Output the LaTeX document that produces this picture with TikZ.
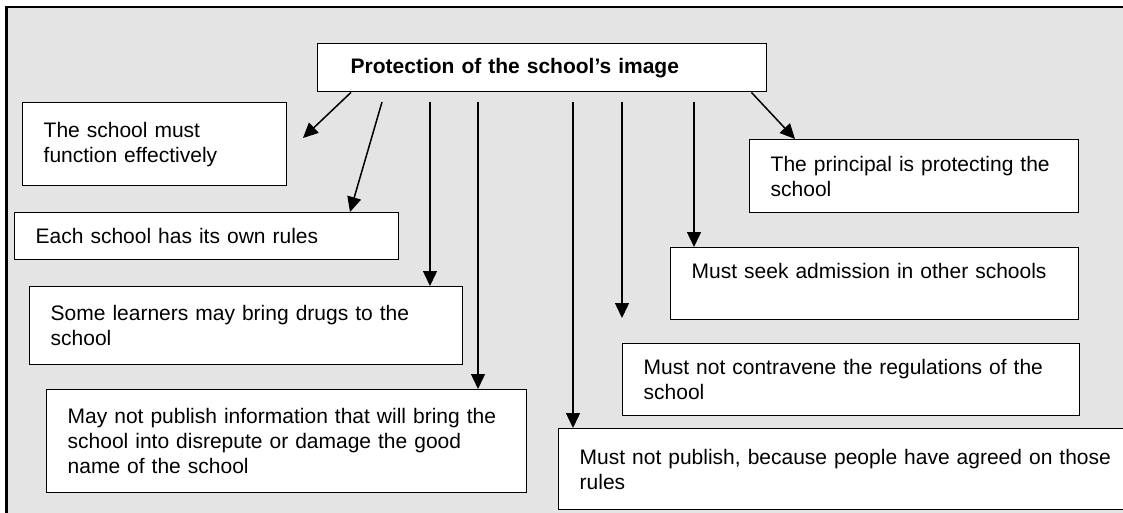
\documentclass[tikz,border=0pt]{standalone}
\usepackage{fontspec}
\setmainfont{Liberation Sans}
\usepackage{tikz}
\usetikzlibrary{
  arrows.meta,
  positioning,
  calc
}
\definecolor{imPanel}{HTML}{E4E4E4}
\definecolor{imInk}{HTML}{000000}
\tikzset{
  imnode/.style={
    draw=imInk, fill=white, line width=1.4pt, anchor=north west,
    align=left, inner xsep=21pt, inner ysep=0pt,
    font=\fontsize{21}{25}\selectfont
  },
  headbox/.style={imnode, inner xsep=33pt, font=\fontsize{21}{25}\selectfont\bfseries},
  ideabox/.style 2 args={imnode, text width=#1, minimum height=#2},
  panel/.style={draw=imInk, line width=2.2pt, fill=imPanel},
  flow/.style={-{Triangle[length=15pt, width=14pt]}, line width=1.5pt, imInk}
}

\begin{document}
\begin{tikzpicture}[x=1pt, y=-1pt]
  \clip (0,0) rectangle (1123,513);
  \fill[white] (0,0) rectangle (1123,513);
  \draw[panel] (6.5,7) rectangle (1160,540);
  \node[headbox, text width=383pt, minimum height=48pt] (top) at (317,43) {Protection of the school’s image};
  \node[ideabox={222pt}{83pt}] (fx) at (22,102) {The school must\\function effectively};
  \node[ideabox={342pt}{47pt}] (rules) at (14,212) {Each school has its own rules};
  \node[ideabox={391pt}{78pt}] (drugs) at (29,286) {Some learners may bring drugs to the\\school};
  \node[ideabox={438pt}{103pt}] (publish) at (46,389) {May not publish information that will bring the\\school into disrepute or damage the good\\name of the school};
  \node[ideabox={287pt}{73pt}] (principal) at (749,139) {The principal is protecting the\\school};
  \node[ideabox={366pt}{72pt}] (admission) at (670,247) {Must seek admission in other schools\\\mbox{}};
  \node[ideabox={415pt}{72pt}] (contravene) at (622,343) {Must not contravene the regulations of the\\school};
  \node[ideabox={560pt}{81pt}] (agreed) at (558,428) {Must not publish, because people have agreed on those\\rules};
  \coordinate (fxtip) at (303,138);
  \coordinate (d2) at (382,102);
  \coordinate (vfree) at (622,102);
  \coordinate (freetip) at (622,318);
  \draw[flow] ([xshift=34pt]top.south west) -- (fxtip);
  \draw[flow] (d2) -- ([xshift=336pt]rules.north west);
  \foreach \x/\dst in {430/drugs, 478/publish, 573/agreed, 694/admission} {
    \coordinate (v\dst) at (\x,102);
    \draw[flow] (v\dst) -- (v\dst |- \dst.north);
  }
  \draw[flow] (vfree) -- (freetip);
  \draw[flow] ([xshift=-16pt]top.south east) -- ([xshift=46pt]principal.north west);
\end{tikzpicture}
\end{document}
